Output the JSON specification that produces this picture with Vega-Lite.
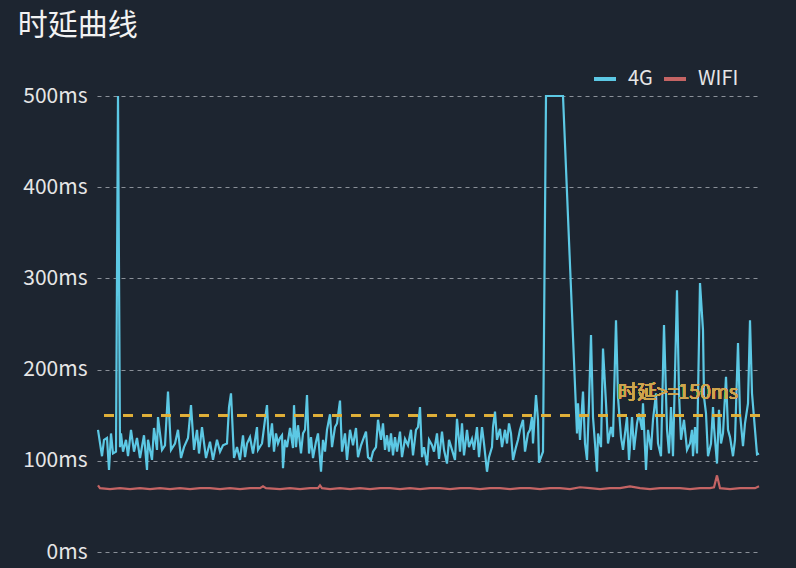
{
  "$schema": "https://vega.github.io/schema/vega-lite/v6.json",
  "width": 663,
  "height": 456,
  "autosize": "none",
  "padding": {"left": 97, "top": 96, "right": 36, "bottom": 16},
  "background": "#1d2530",
  "config": {
    "view": {"stroke": null},
    "font": "Noto Sans CJK SC"
  },
  "title": {
    "text": "时延曲线",
    "anchor": "start",
    "frame": "bounds",
    "fontSize": 30,
    "fontWeight": "normal",
    "color": "#f2f2f2",
    "font": "Noto Sans CJK SC",
    "dx": -5,
    "offset": 25
  },
  "data": {"values": [
      {"t":98,"v":134,"s":"4G"},{"t":102,"v":105,"s":"4G"},{"t":104,"v":123,"s":"4G"},{"t":107,"v":125,"s":"4G"},{"t":109,"v":90,"s":"4G"},{"t":111,"v":130,"s":"4G"},{"t":113,"v":108,"s":"4G"},{"t":116,"v":110,"s":"4G"},{"t":118,"v":500,"s":"4G"},{"t":120,"v":115,"s":"4G"},{"t":121,"v":130,"s":"4G"},{"t":123,"v":110,"s":"4G"},{"t":126,"v":123,"s":"4G"},{"t":128,"v":105,"s":"4G"},{"t":131,"v":134,"s":"4G"},{"t":134,"v":110,"s":"4G"},{"t":137,"v":125,"s":"4G"},{"t":140,"v":103,"s":"4G"},{"t":144,"v":128,"s":"4G"},{"t":147,"v":90,"s":"4G"},{"t":148,"v":123,"s":"4G"},{"t":152,"v":101,"s":"4G"},{"t":154,"v":136,"s":"4G"},{"t":157,"v":112,"s":"4G"},{"t":158,"v":148,"s":"4G"},{"t":162,"v":112,"s":"4G"},{"t":165,"v":117,"s":"4G"},{"t":168,"v":176,"s":"4G"},{"t":171,"v":112,"s":"4G"},{"t":175,"v":119,"s":"4G"},{"t":178,"v":134,"s":"4G"},{"t":181,"v":103,"s":"4G"},{"t":184,"v":115,"s":"4G"},{"t":188,"v":125,"s":"4G"},{"t":191,"v":161,"s":"4G"},{"t":194,"v":112,"s":"4G"},{"t":197,"v":134,"s":"4G"},{"t":199,"v":108,"s":"4G"},{"t":202,"v":137,"s":"4G"},{"t":206,"v":103,"s":"4G"},{"t":210,"v":121,"s":"4G"},{"t":213,"v":101,"s":"4G"},{"t":217,"v":123,"s":"4G"},{"t":220,"v":110,"s":"4G"},{"t":223,"v":117,"s":"4G"},{"t":227,"v":119,"s":"4G"},{"t":229,"v":159,"s":"4G"},{"t":231,"v":174,"s":"4G"},{"t":234,"v":103,"s":"4G"},{"t":237,"v":115,"s":"4G"},{"t":240,"v":101,"s":"4G"},{"t":243,"v":128,"s":"4G"},
      {"t":245,"v":104,"s":"4G"},{"t":247,"v":119,"s":"4G"},{"t":250,"v":126,"s":"4G"},{"t":253,"v":108,"s":"4G"},{"t":257,"v":137,"s":"4G"},{"t":258,"v":112,"s":"4G"},{"t":262,"v":119,"s":"4G"},{"t":265,"v":145,"s":"4G"},{"t":267,"v":161,"s":"4G"},{"t":269,"v":115,"s":"4G"},{"t":272,"v":141,"s":"4G"},{"t":274,"v":110,"s":"4G"},{"t":276,"v":130,"s":"4G"},{"t":278,"v":119,"s":"4G"},{"t":280,"v":125,"s":"4G"},{"t":282,"v":128,"s":"4G"},{"t":283,"v":92,"s":"4G"},{"t":285,"v":123,"s":"4G"},{"t":287,"v":115,"s":"4G"},{"t":290,"v":136,"s":"4G"},{"t":293,"v":114,"s":"4G"},{"t":294,"v":161,"s":"4G"},{"t":296,"v":115,"s":"4G"},{"t":298,"v":139,"s":"4G"},{"t":301,"v":108,"s":"4G"},{"t":303,"v":130,"s":"4G"},{"t":305,"v":134,"s":"4G"},{"t":307,"v":172,"s":"4G"},{"t":309,"v":108,"s":"4G"},{"t":311,"v":126,"s":"4G"},{"t":313,"v":103,"s":"4G"},{"t":316,"v":121,"s":"4G"},{"t":318,"v":130,"s":"4G"},{"t":321,"v":88,"s":"4G"},{"t":323,"v":123,"s":"4G"},{"t":325,"v":110,"s":"4G"},{"t":327,"v":134,"s":"4G"},{"t":330,"v":151,"s":"4G"},{"t":332,"v":115,"s":"4G"},{"t":335,"v":137,"s":"4G"},{"t":337,"v":141,"s":"4G"},{"t":340,"v":166,"s":"4G"},{"t":342,"v":110,"s":"4G"},{"t":345,"v":130,"s":"4G"},{"t":347,"v":101,"s":"4G"},{"t":350,"v":134,"s":"4G"},{"t":353,"v":117,"s":"4G"},{"t":356,"v":136,"s":"4G"},{"t":358,"v":104,"s":"4G"},{"t":361,"v":117,"s":"4G"},{"t":363,"v":123,"s":"4G"},{"t":366,"v":132,"s":"4G"},{"t":368,"v":104,"s":"4G"},{"t":371,"v":101,"s":"4G"},{"t":373,"v":110,"s":"4G"},{"t":376,"v":115,"s":"4G"},{"t":378,"v":145,"s":"4G"},{"t":381,"v":123,"s":"4G"},{"t":383,"v":141,"s":"4G"},{"t":385,"v":112,"s":"4G"},{"t":387,"v":128,"s":"4G"},
      {"t":389,"v":110,"s":"4G"},{"t":391,"v":130,"s":"4G"},{"t":393,"v":106,"s":"4G"},{"t":395,"v":126,"s":"4G"},{"t":397,"v":110,"s":"4G"},{"t":400,"v":132,"s":"4G"},{"t":402,"v":104,"s":"4G"},{"t":405,"v":124,"s":"4G"},{"t":408,"v":117,"s":"4G"},{"t":411,"v":134,"s":"4G"},{"t":413,"v":106,"s":"4G"},{"t":416,"v":134,"s":"4G"},{"t":418,"v":137,"s":"4G"},{"t":420,"v":159,"s":"4G"},{"t":422,"v":104,"s":"4G"},{"t":424,"v":115,"s":"4G"},{"t":427,"v":95,"s":"4G"},{"t":429,"v":123,"s":"4G"},{"t":432,"v":117,"s":"4G"},{"t":434,"v":110,"s":"4G"},{"t":437,"v":130,"s":"4G"},{"t":439,"v":102,"s":"4G"},{"t":442,"v":132,"s":"4G"},{"t":444,"v":112,"s":"4G"},{"t":447,"v":97,"s":"4G"},{"t":449,"v":123,"s":"4G"},{"t":452,"v":112,"s":"4G"},{"t":455,"v":101,"s":"4G"},{"t":457,"v":146,"s":"4G"},{"t":460,"v":110,"s":"4G"},{"t":462,"v":141,"s":"4G"},{"t":464,"v":106,"s":"4G"},{"t":467,"v":134,"s":"4G"},{"t":469,"v":115,"s":"4G"},{"t":472,"v":124,"s":"4G"},{"t":474,"v":112,"s":"4G"},{"t":477,"v":137,"s":"4G"},{"t":479,"v":104,"s":"4G"},{"t":482,"v":137,"s":"4G"},{"t":484,"v":119,"s":"4G"},{"t":487,"v":88,"s":"4G"},{"t":489,"v":104,"s":"4G"},{"t":492,"v":115,"s":"4G"},{"t":493,"v":137,"s":"4G"},{"t":495,"v":154,"s":"4G"},{"t":497,"v":123,"s":"4G"},{"t":500,"v":135,"s":"4G"},{"t":502,"v":115,"s":"4G"},{"t":505,"v":134,"s":"4G"},{"t":507,"v":119,"s":"4G"},{"t":509,"v":141,"s":"4G"},{"t":511,"v":130,"s":"4G"},{"t":513,"v":101,"s":"4G"},{"t":516,"v":115,"s":"4G"},{"t":518,"v":123,"s":"4G"},{"t":520,"v":134,"s":"4G"},{"t":523,"v":145,"s":"4G"},{"t":525,"v":110,"s":"4G"},{"t":528,"v":130,"s":"4G"},{"t":530,"v":134,"s":"4G"},{"t":532,"v":148,"s":"4G"},{"t":533,"v":119,"s":"4G"},{"t":536,"v":172,"s":"4G"},{"t":538,"v":145,"s":"4G"},{"t":539,"v":98,"s":"4G"},{"t":541,"v":104,"s":"4G"},{"t":543,"v":110,"s":"4G"},{"t":546,"v":500,"s":"4G"},{"t":563,"v":500,"s":"4G"},
      {"t":577,"v":130,"s":"4G"},{"t":578,"v":163,"s":"4G"},{"t":580,"v":123,"s":"4G"},{"t":583,"v":176,"s":"4G"},{"t":585,"v":119,"s":"4G"},{"t":587,"v":101,"s":"4G"},{"t":589,"v":163,"s":"4G"},{"t":591,"v":238,"s":"4G"},{"t":593,"v":148,"s":"4G"},{"t":595,"v":119,"s":"4G"},{"t":597,"v":88,"s":"4G"},{"t":598,"v":130,"s":"4G"},{"t":601,"v":115,"s":"4G"},{"t":603,"v":223,"s":"4G"},{"t":606,"v":163,"s":"4G"},{"t":608,"v":119,"s":"4G"},{"t":611,"v":137,"s":"4G"},{"t":613,"v":126,"s":"4G"},{"t":616,"v":254,"s":"4G"},{"t":618,"v":170,"s":"4G"},{"t":621,"v":126,"s":"4G"},{"t":623,"v":112,"s":"4G"},{"t":627,"v":148,"s":"4G"},{"t":629,"v":101,"s":"4G"},{"t":632,"v":148,"s":"4G"},{"t":634,"v":112,"s":"4G"},{"t":637,"v":141,"s":"4G"},{"t":639,"v":152,"s":"4G"},{"t":642,"v":134,"s":"4G"},{"t":643,"v":163,"s":"4G"},{"t":646,"v":90,"s":"4G"},{"t":648,"v":134,"s":"4G"},{"t":651,"v":112,"s":"4G"},{"t":653,"v":145,"s":"4G"},{"t":656,"v":174,"s":"4G"},{"t":658,"v":119,"s":"4G"},{"t":661,"v":105,"s":"4G"},{"t":664,"v":249,"s":"4G"},{"t":667,"v":134,"s":"4G"},{"t":669,"v":108,"s":"4G"},{"t":671,"v":159,"s":"4G"},{"t":673,"v":105,"s":"4G"},{"t":677,"v":287,"s":"4G"},{"t":679,"v":174,"s":"4G"},{"t":681,"v":123,"s":"4G"},{"t":684,"v":145,"s":"4G"},{"t":687,"v":112,"s":"4G"},{"t":690,"v":119,"s":"4G"},{"t":692,"v":134,"s":"4G"},{"t":693,"v":105,"s":"4G"},{"t":695,"v":137,"s":"4G"},{"t":697,"v":108,"s":"4G"},{"t":700,"v":295,"s":"4G"},{"t":703,"v":243,"s":"4G"},{"t":704,"v":170,"s":"4G"},{"t":706,"v":152,"s":"4G"},{"t":708,"v":105,"s":"4G"},{"t":711,"v":119,"s":"4G"},{"t":713,"v":159,"s":"4G"},{"t":714,"v":137,"s":"4G"},{"t":717,"v":97,"s":"4G"},{"t":719,"v":156,"s":"4G"},{"t":721,"v":119,"s":"4G"},{"t":723,"v":130,"s":"4G"},{"t":726,"v":192,"s":"4G"},{"t":728,"v":134,"s":"4G"},{"t":730,"v":126,"s":"4G"},{"t":733,"v":105,"s":"4G"},{"t":735,"v":123,"s":"4G"},{"t":738,"v":229,"s":"4G"},{"t":740,"v":152,"s":"4G"},{"t":743,"v":116,"s":"4G"},{"t":745,"v":141,"s":"4G"},{"t":748,"v":163,"s":"4G"},{"t":750,"v":254,"s":"4G"},{"t":752,"v":174,"s":"4G"},{"t":755,"v":134,"s":"4G"},{"t":757,"v":107,"s":"4G"},{"t":759,"v":108,"s":"4G"},
      {"t":98,"v":73,"s":"WIFI"},{"t":100,"v":70,"s":"WIFI"},{"t":110,"v":69,"s":"WIFI"},{"t":120,"v":70,"s":"WIFI"},{"t":130,"v":69,"s":"WIFI"},{"t":140,"v":70,"s":"WIFI"},{"t":150,"v":69,"s":"WIFI"},{"t":160,"v":70,"s":"WIFI"},{"t":170,"v":69,"s":"WIFI"},{"t":180,"v":70,"s":"WIFI"},{"t":190,"v":69,"s":"WIFI"},{"t":200,"v":70,"s":"WIFI"},{"t":210,"v":70,"s":"WIFI"},{"t":220,"v":69,"s":"WIFI"},{"t":230,"v":70,"s":"WIFI"},{"t":240,"v":69,"s":"WIFI"},{"t":250,"v":70,"s":"WIFI"},{"t":260,"v":70,"s":"WIFI"},{"t":263,"v":72,"s":"WIFI"},{"t":266,"v":70,"s":"WIFI"},{"t":280,"v":69,"s":"WIFI"},{"t":290,"v":70,"s":"WIFI"},{"t":300,"v":69,"s":"WIFI"},{"t":310,"v":70,"s":"WIFI"},{"t":318,"v":70,"s":"WIFI"},{"t":320,"v":73,"s":"WIFI"},{"t":322,"v":70,"s":"WIFI"},{"t":330,"v":69,"s":"WIFI"},{"t":340,"v":70,"s":"WIFI"},{"t":350,"v":69,"s":"WIFI"},{"t":360,"v":70,"s":"WIFI"},{"t":370,"v":69,"s":"WIFI"},{"t":380,"v":70,"s":"WIFI"},{"t":390,"v":70,"s":"WIFI"},{"t":400,"v":69,"s":"WIFI"},{"t":410,"v":70,"s":"WIFI"},{"t":420,"v":69,"s":"WIFI"},{"t":430,"v":70,"s":"WIFI"},{"t":440,"v":70,"s":"WIFI"},{"t":450,"v":69,"s":"WIFI"},{"t":460,"v":70,"s":"WIFI"},{"t":470,"v":70,"s":"WIFI"},{"t":480,"v":69,"s":"WIFI"},{"t":490,"v":70,"s":"WIFI"},{"t":500,"v":70,"s":"WIFI"},{"t":510,"v":69,"s":"WIFI"},{"t":520,"v":70,"s":"WIFI"},{"t":530,"v":70,"s":"WIFI"},{"t":540,"v":69,"s":"WIFI"},{"t":550,"v":70,"s":"WIFI"},{"t":560,"v":70,"s":"WIFI"},{"t":570,"v":69,"s":"WIFI"},{"t":580,"v":71,"s":"WIFI"},{"t":590,"v":70,"s":"WIFI"},{"t":600,"v":69,"s":"WIFI"},{"t":610,"v":70,"s":"WIFI"},{"t":620,"v":70,"s":"WIFI"},{"t":630,"v":72,"s":"WIFI"},{"t":640,"v":70,"s":"WIFI"},{"t":650,"v":69,"s":"WIFI"},{"t":660,"v":70,"s":"WIFI"},{"t":670,"v":70,"s":"WIFI"},{"t":680,"v":70,"s":"WIFI"},{"t":690,"v":69,"s":"WIFI"},{"t":700,"v":70,"s":"WIFI"},{"t":710,"v":70,"s":"WIFI"},{"t":714,"v":71,"s":"WIFI"},{"t":717,"v":84,"s":"WIFI"},{"t":720,"v":70,"s":"WIFI"},{"t":730,"v":69,"s":"WIFI"},{"t":740,"v":70,"s":"WIFI"},{"t":750,"v":70,"s":"WIFI"},{"t":755,"v":70,"s":"WIFI"},{"t":759,"v":72,"s":"WIFI"}
  ]},
  "layer": [
    {
      "mark": {"type": "line", "strokeWidth": 2.2, "interpolate": "linear"},
      "encoding": {
        "x": {"field": "t", "type": "quantitative", "scale": {"domain": [97, 760], "nice": false, "zero": false}, "axis": null},
        "y": {
          "field": "v", "type": "quantitative",
          "scale": {"domain": [0, 500], "nice": false},
          "axis": {
            "title": null,
            "values": [0, 100, 200, 300, 400, 500],
            "labelExpr": "datum.value + 'ms'",
            "labelFontSize": 21,
            "labelColor": "#e6e6e6",
            "labelFont": "Noto Sans CJK SC",
            "labelPadding": 10,
            "ticks": false,
            "domain": false,
            "grid": true,
            "gridColor": "#8a9098",
            "gridDash": [4, 4],
            "gridWidth": 1
          }
        },
        "color": {
          "field": "s", "type": "nominal",
          "scale": {"domain": ["4G", "WIFI"], "range": ["#5cc8e4", "#c46464"]},
          "legend": {
            "title": null,
            "orient": "none",
            "legendX": 495,
            "legendY": -30,
            "direction": "horizontal",
            "symbolType": "stroke",
            "symbolSize": 484,
            "symbolStrokeWidth": 4,
            "labelFontSize": 20,
            "labelColor": "#e6e6e6",
            "labelFont": "Noto Sans CJK SC",
            "columnPadding": 3,
            "labelOffset": 10
          }
        }
      }
    },
    {
      "mark": {"type": "rule", "color": "#e0b03a", "strokeWidth": 2, "strokeDash": [10, 9]},
      "encoding": {
        "y": {"datum": 150}
      }
    },
    {
      "mark": {"type": "text", "color": "#cfa650", "opacity": 0.9, "fontSize": 19.5, "align": "right", "baseline": "middle", "dy": -22, "font": "Noto Sans CJK SC", "text": "时延>=150ms"},
      "encoding": {
        "x": {"datum": 738},
        "y": {"datum": 150}
      }
    }
  ]
}
